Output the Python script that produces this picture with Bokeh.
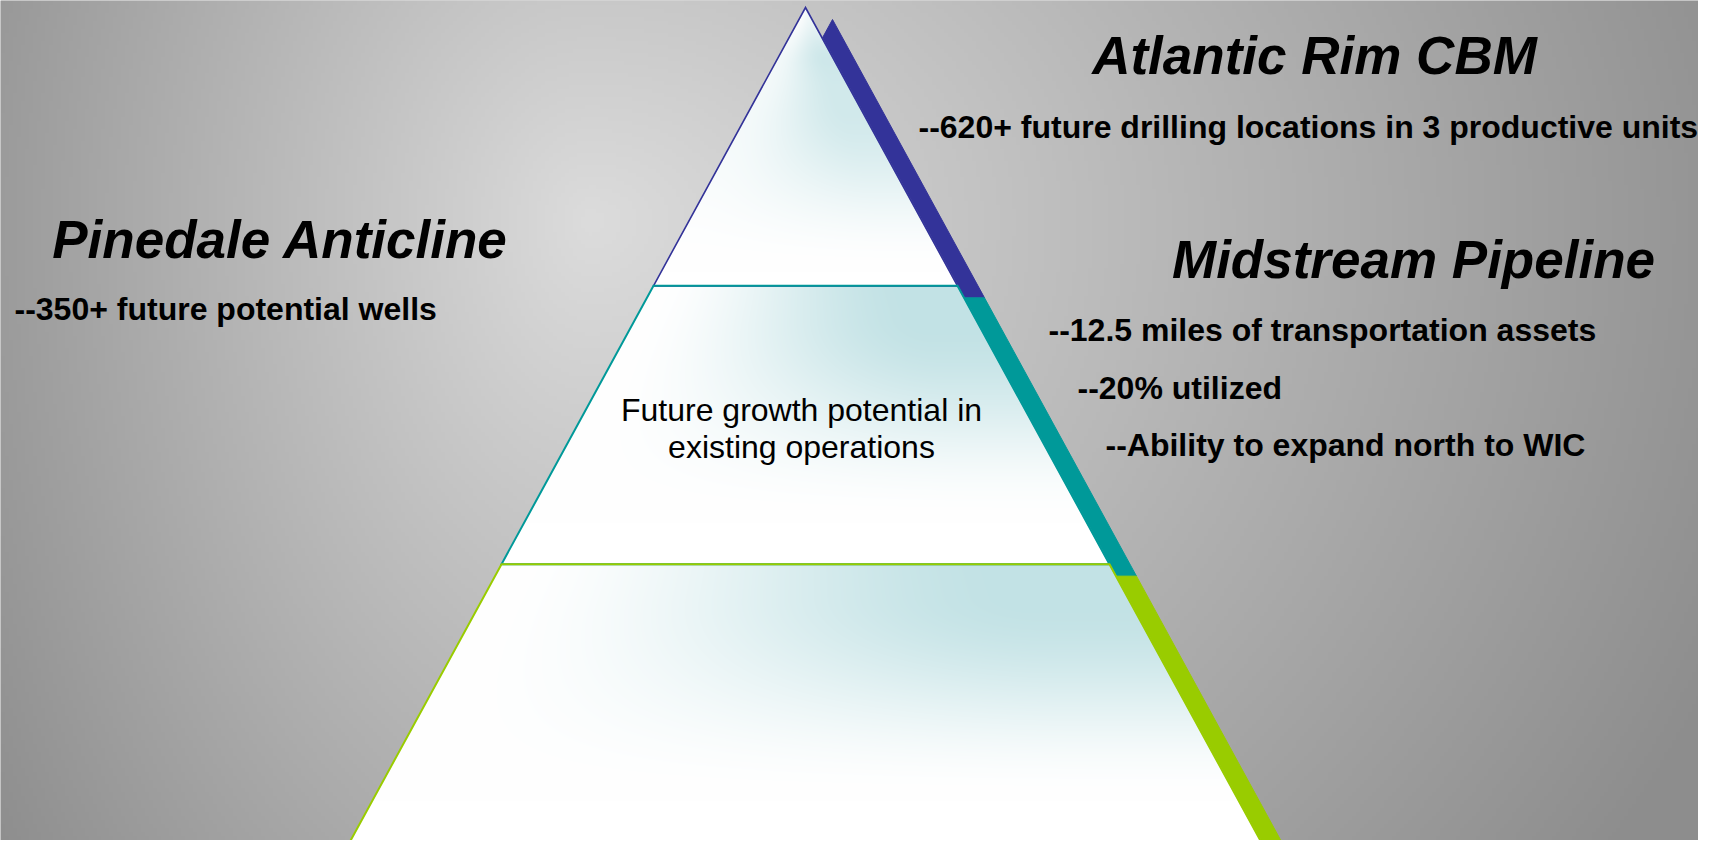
import numpy as np
from bokeh.plotting import figure
from bokeh.models import Range1d
from bokeh.embed import file_html
from bokeh.resources import INLINE
from bokeh.core.properties import value

# ---------------- data ----------------
tier_names = ["Top tier", "Middle tier", "Base tier"]
tier_colors = ["#333399", "#009999", "#99CC00"]
tier_labels = ["", "Future growth potential in\nexisting operations", ""]

headings = ["Atlantic Rim CBM", "Pinedale Anticline", "Midstream Pipeline"]
atlantic_points = ["--620+ future drilling locations in 3 productive units"]
pinedale_points = ["--350+ future potential wells"]
midstream_points = ["--12.5 miles of transportation assets",
                    "--20% utilized",
                    "--Ability to expand north to WIC"]

# ---------------- layout (reference pixel space, y down) ----------------
W, H = 1714, 856
MARGIN = 8
APEX_X, APEX_Y = 805.0, 7.0
BASE_Y = 842.0
HALF_BASE = 456.0
SH_DX, SH_DY = 27.0, 12.0
FONT = value("Liberation Sans")


def Y(y):
    return H - np.asarray(y, dtype=float)


def xl(y):
    return APEX_X - HALF_BASE * (y - APEX_Y) / (BASE_Y - APEX_Y)


def xr(y):
    return APEX_X + HALF_BASE * (y - APEX_Y) / (BASE_Y - APEX_Y)


n_tiers = len(tier_names)
tier_tops = [APEX_Y + (BASE_Y - APEX_Y) * k / n_tiers for k in range(n_tiers)]
tier_bots = [APEX_Y + (BASE_Y - APEX_Y) * (k + 1) / n_tiers for k in range(n_tiers)]

FW, FH = W - 2 * MARGIN, H - 2 * MARGIN
p = figure(width=FW, height=FH,
           x_range=Range1d(0, FW), y_range=Range1d(H - FH, H),
           output_backend="svg", toolbar_location=None, min_border=0)
p.axis.visible = False
p.grid.visible = False
p.outline_line_color = None
p.background_fill_color = "#b0b0b0"
p.border_fill_color = "#b0b0b0"

# ---------------- background gradient ----------------
f = 4
cols, rows = int(np.ceil(W / f)), int(np.ceil(H / f))
gx = (np.arange(cols) + 0.5) * f
gy = (np.arange(rows) + 0.5) * f
GX, GY = np.meshgrid(gx, gy)
cx, cy = 590.0, 220.0
hx = np.where(GX < cx, 640.0, 1100.0)
hy = np.where(GY < cy, 800.0, 1000.0)
r = np.sqrt(((GX - cx) / hx) ** 2 + ((GY - cy) / hy) ** 2)
val = np.clip(220 - 70 * np.minimum(r, 1.12), 0, 255).astype(np.uint8)
bg = np.zeros((rows, cols, 4), dtype=np.uint8)
bg[..., 0] = val
bg[..., 1] = val
bg[..., 2] = val
bg[..., 3] = 255
bg = np.flipud(bg).copy()
p.image_rgba(image=[bg.view(np.uint32).reshape(rows, cols)],
             x=0, y=H - rows * f, dw=cols * f, dh=rows * f)

# ---------------- shadow (3-D side) ----------------
for k in range(n_tiers):
    t, b = tier_tops[k], tier_bots[k]
    px = [xl(t) + SH_DX, xr(t) + SH_DX, xr(b) + SH_DX, xl(b) + SH_DX]
    py = [t + SH_DY, t + SH_DY, b + SH_DY, b + SH_DY]
    p.patch(px, list(Y(py)), fill_color=tier_colors[k], line_color=tier_colors[k], line_width=1)

# ---------------- pyramid interior (white with cyan tint) ----------------
x0, x1 = int(APEX_X - HALF_BASE - 6), int(APEX_X + HALF_BASE + 6)
y0, y1 = 0, int(BASE_Y + 4)
ix = np.arange(x0, x1) + 0.5
iy = np.arange(y0, y1) + 0.5
IX, IY = np.meshgrid(ix, iy)
L = xl(IY)
R = xr(IY)
perp = (BASE_Y - APEX_Y) / np.hypot(BASE_Y - APEX_Y, HALF_BASE)
d = np.minimum(np.minimum((IX - L) * perp, (R - IX) * perp), BASE_Y - IY)
alpha = np.clip(0.5 + d, 0, 1)


def smooth(e0, e1, z):
    s = np.clip((z - e0) / (e1 - e0), 0, 1)
    return s * s * (3 - 2 * s)


tint = np.zeros_like(IX)
strength = [0.75, 1.0, 1.0]
for k in range(n_tiers):
    t, b = tier_tops[k], tier_bots[k]
    mask = (IY >= t) & (IY < b)
    width = np.maximum(R - L, 1e-6)
    u = np.clip((IX - L) / width, 0, 1)
    v = np.clip((IY - t) / (b - t), 0, 1)
    if k == 0:
        h = 0.25 + 0.75 * smooth(0.0, 0.85, u)
        vy = smooth(0.0, 0.2, v) * (1 - smooth(0.35, 0.95, v)) + 0.25 * (1 - smooth(0.0, 0.3, v))
    else:
        h = smooth(0.0, 0.85, u)
        vy = 1 - smooth(0.12, 0.85, v)
    tint = np.where(mask, strength[k] * h * vy, tint)

cyan = np.array([194, 226, 229], dtype=float)
white = np.array([255, 255, 255], dtype=float)
rgb = white[None, None, :] * (1 - tint[..., None]) + cyan[None, None, :] * tint[..., None]
img = np.zeros((len(iy), len(ix), 4), dtype=np.uint8)
img[..., :3] = np.clip(rgb, 0, 255).astype(np.uint8)
img[..., 3] = (alpha * 255).astype(np.uint8)
img = np.flipud(img).copy()
p.image_rgba(image=[img.view(np.uint32).reshape(len(iy), len(ix))],
             x=x0, y=H - y1, dw=x1 - x0, dh=y1 - y0)

# ---------------- tier outlines ----------------
for k in range(n_tiers):
    t, b = tier_tops[k], tier_bots[k]
    px = [xl(t), xr(t), xr(b), xl(b)]
    py = [t, t, b, b]
    p.patch(px, list(Y(py)), fill_alpha=0, line_color=tier_colors[k],
            line_width=2 if k else 1.6, line_join="miter")


# ---------------- texts ----------------
def text_y(baselines, lift):
    return list(Y(np.asarray(baselines, dtype=float) - lift))


heading_x = [1314, 280, 1413]
heading_y = [74, 258, 278]
p.text(x=heading_x, y=text_y(heading_y, 19.5), text=headings, text_font=FONT,
       text_font_style="bold italic", text_font_size="53px", text_color="black",
       text_align="center", text_baseline="alphabetic")

bullets = atlantic_points + pinedale_points + midstream_points
bullet_x = [918, 14, 1048, 1077, 1105]
bullet_y = [136, 318, 339, 397, 454]
p.text(x=bullet_x, y=text_y(bullet_y, 10), text=bullets, text_font=FONT,
       text_font_style="bold", text_font_size="32px", text_color="black",
       text_align="left", text_baseline="alphabetic")

mid_lines = tier_labels[1].split("\n")
p.text(x=[801] * len(mid_lines), y=text_y([419 + 37 * i for i in range(len(mid_lines))], 10),
       text=mid_lines, text_font=FONT, text_font_style="normal", text_font_size="32px",
       text_color="black", text_align="center", text_baseline="alphabetic")

open("out.html", "w").write(file_html(p, INLINE))
